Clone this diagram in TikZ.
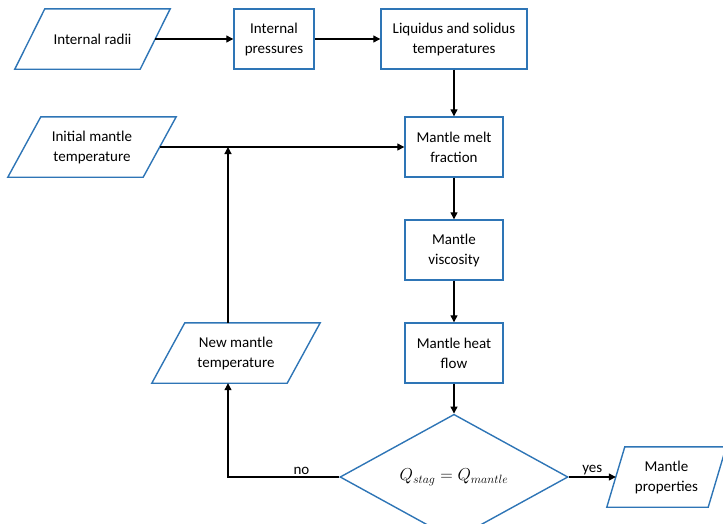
\documentclass[tikz,border=0pt]{standalone}
\usepackage{fontspec}
\setmainfont{Carlito}
\usetikzlibrary{shapes.geometric,arrows.meta}
\definecolor{boxblue}{RGB}{46,117,182}
\newcommand{\paradraw}[2]{%
  \draw[paraline] ([xshift=-#2]#1.south west) -- ([xshift=#2]#1.north west) -- ([xshift=#2]#1.north east) -- ([xshift=-#2]#1.south east) -- cycle;}
\begin{document}
\begin{tikzpicture}[x=1pt,y=-1pt,
  font=\fontsize{15}{20}\selectfont,
  every node/.style={align=center},
  procbox/.style={draw=boxblue,line width=1.4pt,minimum height=60pt,inner sep=2pt,fill=white},
  paranode/.style={minimum height=60pt,inner sep=2pt},
  paraline/.style={draw=boxblue,line width=1.4pt},
  arr/.style={line width=1.2pt,-{Triangle[length=7pt,width=7pt]}},
  conn/.style={line width=1.2pt},
  lbl/.style={font=\fontsize{15}{18}\selectfont,inner sep=1.5pt}
]
\useasboundingbox (0,0) rectangle (723,523);
% nodes
\node[paranode,minimum width=125pt] (radii) at (92.5,39) {Internal radii};
\paradraw{radii}{15pt}
\node[procbox,minimum width=80pt] (press) at (274,39) {Internal\\pressures};
\node[procbox,minimum width=146pt] (liq) at (454,39) {Liquidus and solidus\\temperatures};
\node[paranode,minimum width=135pt] (init) at (92,147) {Initial mantle\\temperature};
\paradraw{init}{16.5pt}
\node[procbox,minimum width=98pt] (melt) at (454,147) {Mantle melt\\fraction};
\node[procbox,minimum width=98pt] (visc) at (454,250) {Mantle\\viscosity};
\node[procbox,minimum width=98pt] (heat) at (454,353) {Mantle heat\\flow};
\node[paranode,minimum width=135pt] (newt) at (236,353) {New mantle\\temperature};
\paradraw{newt}{16.5pt}
\node[draw=boxblue,line width=1.4pt,shape=diamond,minimum width=228pt,minimum height=94pt,inner sep=0pt,font=\fontsize{16.5}{20}\selectfont] (dia) at (454,477) {$Q_{stag}=Q_{mantle}$};
\node[paranode,minimum width=101pt] (prop) at (666.5,477) {Mantle\\properties};
\paradraw{prop}{9pt}
\coordinate (j) at (228,147);
% connectors
\draw[arr] (radii.east) -- (press.west);
\draw[arr] (press.east) -- (liq.west);
\draw[arr] (liq.south) -- (melt.north);
\draw[arr] (init.east) -- (melt.west);
\draw[arr] (newt.north -| j) -- (j);
\draw[arr] (melt.south) -- (visc.north);
\draw[arr] (visc.south) -- (heat.north);
\draw[arr] (heat.south) -- (dia.north);
\draw[arr] (dia.west) -| (newt.south -| j) node[lbl,pos=0.17,above] (no) {no};
\draw[arr] (dia.east) -- (prop.west) node[lbl,midway,above] (yes) {yes};
\end{tikzpicture}
\end{document}
